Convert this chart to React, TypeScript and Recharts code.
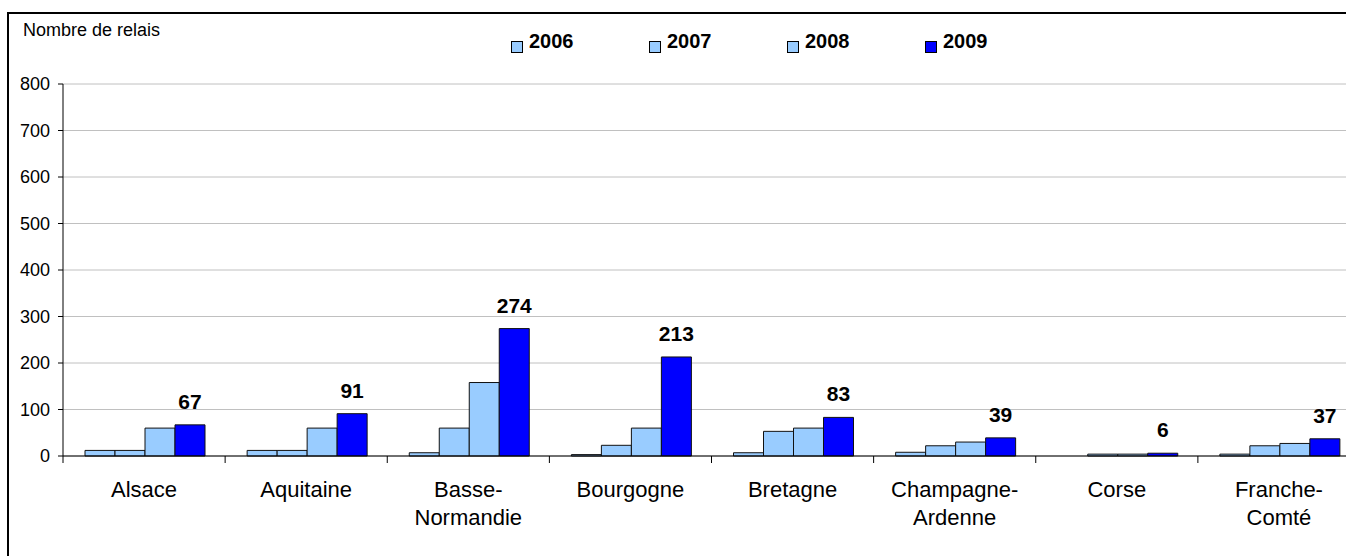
import React from "react";
import { BarChart, Bar, XAxis, YAxis, CartesianGrid, Legend, LabelList, Label } from "recharts";

const regions = [
  "Alsace",
  "Aquitaine",
  "Basse-Normandie",
  "Bourgogne",
  "Bretagne",
  "Champagne-Ardenne",
  "Corse",
  "Franche-Comté",
];
const v2006 = [12, 12, 7, 3, 7, 8, 0, 4];
const v2007 = [12, 12, 60, 23, 53, 22, 4, 22];
const v2008 = [60, 60, 158, 60, 60, 30, 4, 27];
const v2009 = [67, 91, 274, 213, 83, 39, 6, 37];
const yTicks = [0, 100, 200, 300, 400, 500, 600, 700, 800];
const years = ["2006", "2007", "2008", "2009"];

const data = regions.map((r, i) => ({
  region: r,
  "2006": v2006[i],
  "2007": v2007[i],
  "2008": v2008[i],
  "2009": v2009[i],
}));

const FONT = '"Liberation Sans", Arial, sans-serif';
const CHART_W = 1377;
const Y_W = 63;
const RIGHT = 17;
const BAND = (CHART_W - Y_W - RIGHT) / regions.length;

const LIGHT = "#99CCFF";
const DARK = "#0000FF";

// category labels sit under the band, tick marks on the band edges
function RegionTick(props: any) {
  const { x, y, payload } = props;
  const name: string = payload.value;
  const cut = name.indexOf("-");
  const lines = cut >= 0 ? [name.slice(0, cut + 1), name.slice(cut + 1)] : [name];
  const axisY = y - 8;
  const left = x - BAND / 2;
  return (
    <g>
      <line x1={left} y1={axisY} x2={left} y2={axisY + 7} stroke="#000" strokeWidth={1} />
      <text x={x} y={axisY + 41} textAnchor="middle" fontSize={22} fontFamily={FONT} fill="#000">
        {lines.map((l, i) => (
          <tspan key={i} x={x} dy={i === 0 ? 0 : 28}>
            {l}
          </tspan>
        ))}
      </text>
    </g>
  );
}

function LegendBox(props: any) {
  const items = props.payload || [];
  return (
    <div style={{ position: "relative", width: 1346, height: 26, fontFamily: FONT }}>
      {items.map((e: any, i: number) => (
        <div key={i} style={{ position: "absolute", left: 511 + i * 138, top: 0, height: 26 }}>
          <span
            style={{
              position: "absolute",
              left: 0,
              top: 11,
              width: 12,
              height: 12,
              boxSizing: "border-box",
              border: "1px solid #000",
              background: e.color,
            }}
          />
          <span
            style={{
              position: "absolute",
              left: 18,
              top: 0,
              fontSize: 20,
              lineHeight: "22px",
              fontWeight: "bold",
              color: "#000",
              whiteSpace: "nowrap",
            }}
          >
            {e.value}
          </span>
        </div>
      ))}
    </div>
  );
}

export default function App() {
  return (
    <div
      style={{
        position: "fixed",
        left: 0,
        top: 0,
        width: 1346,
        height: 556,
        overflow: "hidden",
        background: "#fff",
      }}
    >
      <div style={{ position: "absolute", left: 7, top: 12, width: 2, height: 544, background: "#000" }} />
      <div style={{ position: "absolute", left: 7, top: 12, width: 1339, height: 2, background: "#000" }} />
      <div style={{ position: "absolute", left: 0, top: 0 }}>
        <BarChart
          width={CHART_W}
          height={556}
          data={data}
          margin={{ top: 84, right: RIGHT, bottom: 0, left: 0 }}
          barCategoryGap={22}
          barGap={0}
        >
          <CartesianGrid vertical={false} stroke="#c0c0c0" strokeWidth={1} />
          <XAxis
            dataKey="region"
            height={100}
            interval={0}
            axisLine={{ stroke: "#000", strokeWidth: 1 }}
            tickLine={false}
            tickSize={6}
            tickMargin={2}
            tick={<RegionTick />}
          />
          <YAxis
            width={Y_W}
            domain={[0, 800]}
            ticks={yTicks}
            interval={0}
            axisLine={{ stroke: "#000", strokeWidth: 1 }}
            tickLine={{ stroke: "#000" }}
            tickSize={5}
            tickMargin={8}
            tick={{ fontSize: 18, fontFamily: FONT, fill: "#000" }}
          >
            <Label
              content={(p: any) => (
                <text
                  x={p.viewBox.x + 23}
                  y={p.viewBox.y - 48}
                  fontSize={18}
                  fontFamily={FONT}
                  fill="#000"
                >
                  Nombre de relais
                </text>
              )}
            />
          </YAxis>
          <Legend
            layout="horizontal"
            verticalAlign="middle"
            align="center"
            wrapperStyle={{ top: 30, left: 0, width: 1346 }}
            content={<LegendBox />}
          />
          {years.map((yr) => (
            <Bar
              key={yr}
              dataKey={yr}
              name={yr}
              fill={yr === "2009" ? DARK : LIGHT}
              stroke="#111"
              strokeWidth={1}
              isAnimationActive={false}
            >
              {yr === "2009" && (
                <LabelList
                  dataKey={yr}
                  position="top"
                  offset={16}
                  style={{ fontSize: 21, fontWeight: "bold", fontFamily: FONT, fill: "#000" }}
                />
              )}
            </Bar>
          ))}
        </BarChart>
      </div>
    </div>
  );
}
